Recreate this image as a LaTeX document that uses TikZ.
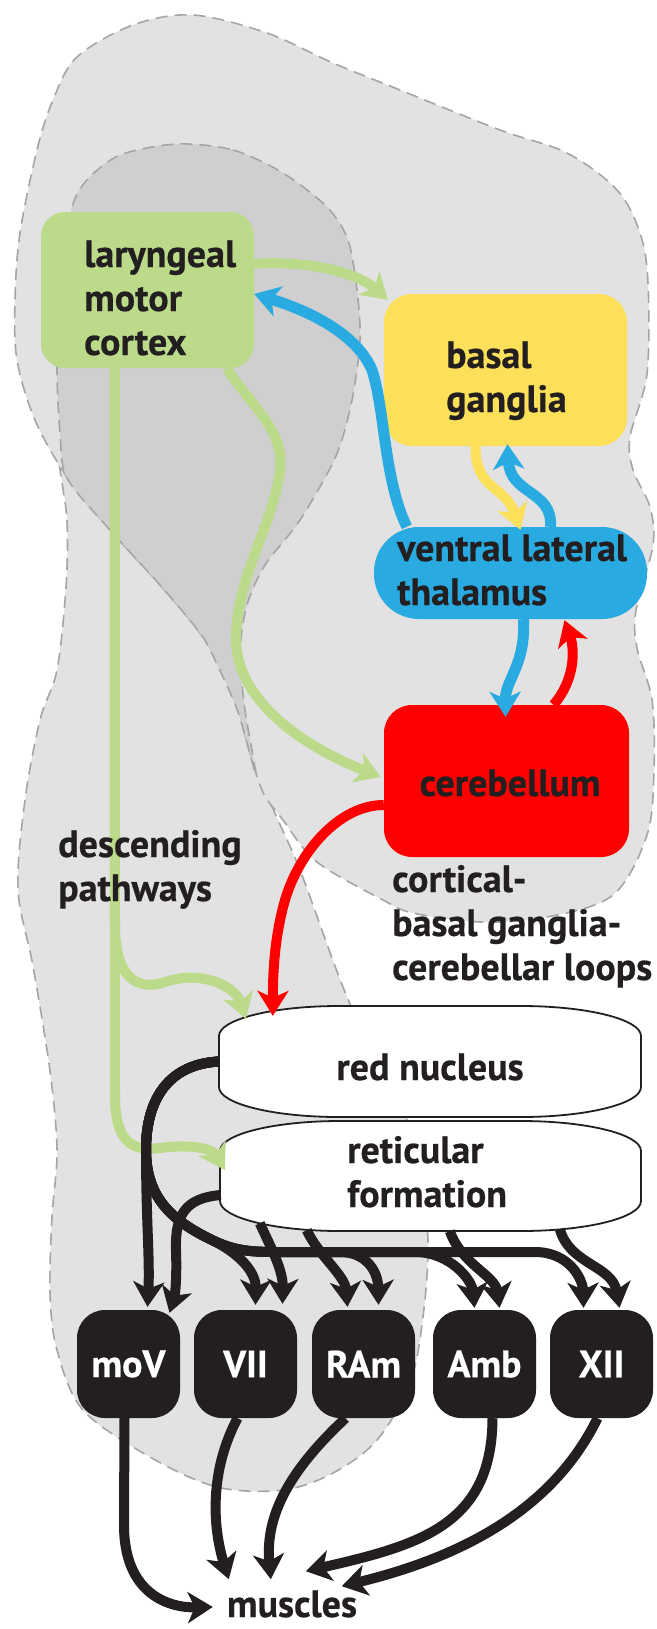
\documentclass[tikz,border=0pt]{standalone}
\usepackage{fontspec}
\setmainfont{PT Sans}[BoldFeatures={FakeBold=0.5}]
\usetikzlibrary{arrows.meta,calc}
\definecolor{cgreen}{RGB}{187,218,138}
\definecolor{cyellow}{RGB}{253,224,90}
\definecolor{cblue}{RGB}{41,170,225}
\definecolor{cred}{RGB}{255,0,0}
\definecolor{cblack}{RGB}{35,31,32}
\definecolor{clight}{RGB}{226,226,226}
\definecolor{cdark}{RGB}{207,207,207}
\definecolor{cdash}{RGB}{165,165,165}
\newcommand{\mlines}[1]{\begin{tabular}[t]{@{}l@{}}#1\end{tabular}}
\begin{document}
\begin{tikzpicture}[x=1pt,y=-1pt,
  region/.style={draw=cdash, line width=1.6pt, dash pattern=on 12pt off 7pt},
  box/.style={rectangle, inner sep=0pt},
  lbl/.style={inner sep=0pt, anchor=base west, text=cblack, font=\bfseries\fontsize{38}{44}\selectfont},
  nuc/.style={rectangle, rounded corners=28pt, fill=cblack, minimum width=103pt, minimum height=108pt, inner sep=0pt, text=white, font=\bfseries\fontsize{38}{44}\selectfont},
  conn/.style={line width=10pt, -{Stealth[length=25pt,width=31pt,inset=7pt]}},
  gconn/.style={conn, draw=cgreen},
  bconn/.style={conn, draw=cblue, line width=11pt},
  yconn/.style={conn, draw=cyellow},
  rconn/.style={conn, draw=cred},
  kconn/.style={conn, draw=cblack},
  nucshape/.style={fill=white, draw=cblack, line width=1.8pt}
]
\useasboundingbox (0,0) rectangle (656,1629);
\fill[white] (0,0) rectangle (656,1629);

% descending strip
\draw[region, fill=clight] plot[smooth cycle, tension=0.55] coordinates {
 (60,440) (67,520) (66,587) (57,670) (40,720) (25,800) (18,889) (33,966) (50,1071) (57,1150)
 (52,1217) (50,1293) (57,1350) (83,1410) (150,1457) (217,1487) (283,1490) (333,1473) (377,1440)
 (410,1383) (423,1317) (428,1240) (418,1170) (400,1100) (350,1004) (300,870) (266,790) (240,690) (190,580) (110,470)};
% cortex + loops region
\draw[region, fill=clight] plot[smooth cycle, tension=0.55] coordinates {
 (193,15) (267,33) (333,63) (400,90) (500,130) (567,153) (617,190) (640,233) (648,283) (647,374)
 (630,437) (633,470) (650,507) (653,545) (636,610) (637,648) (652,700) (654,770) (647,835)
 (613,895) (547,917) (480,922) (413,913) (383,900) (317,862) (283,820) (262,790) (245,735)
 (233,687) (200,633) (160,585) (110,530) (67,477) (35,420) (17,360) (15,300) (20,233) (37,150)
 (53,100) (77,57) (133,25)};
% cortex (dark)
\draw[region, fill=cdark] plot[smooth cycle, tension=0.5] coordinates {
 (177,144) (233,150) (283,173) (327,207) (348,240) (357,290) (360,340) (352,400) (336,456)
 (300,520) (265,565) (247,605) (240,653) (245,710) (256,775) (238,712) (215,660) (200,633)
 (160,585) (110,530) (67,478) (60,433) (57,367) (60,267) (72,207) (87,180) (120,155)};

% boxes
\node[box, fill=cgreen, minimum width=213pt, minimum height=156pt, rounded corners=24pt] (lmc) at (147.5,290) {};
\node[box, fill=cyellow, minimum width=243pt, minimum height=152pt, rounded corners=28pt] (bg) at (505.5,370) {};
\node[box, fill=cblue, minimum width=273pt, minimum height=92pt, rounded corners=45pt] (vlt) at (510.5,573) {};
\node[box, fill=cred, minimum width=245pt, minimum height=152pt, rounded corners=28pt] (cb) at (506.5,781) {};
\node[inner sep=0pt, minimum width=422pt, minimum height=111pt] (rn) at (430,1061.5) {};
\node[inner sep=0pt, minimum width=421pt, minimum height=110pt] (rf) at (430.5,1176) {};
\draw[nucshape] (219,1036) .. controls (219,1019.4) and (272.7,1006) .. (339,1006) -- (521,1006)
  .. controls (587.3,1006) and (641,1019.4) .. (641,1036) -- (641,1087)
  .. controls (641,1103.6) and (587.3,1117) .. (521,1117) -- (339,1117)
  .. controls (272.7,1117) and (219,1103.6) .. (219,1087) -- cycle;
\draw[nucshape] (220,1151) .. controls (220,1134.4) and (273.7,1121) .. (340,1121) -- (521,1121)
  .. controls (587.3,1121) and (641,1134.4) .. (641,1151) -- (641,1201)
  .. controls (641,1217.6) and (587.3,1231) .. (521,1231) -- (340,1231)
  .. controls (273.7,1231) and (220,1217.6) .. (220,1201) -- cycle;

\node[nuc] (nmoV) at (128.5,1364) {moV};
\node[nuc] (nVII) at (245.5,1364) {VII};
\node[nuc] (nRAm) at (363.5,1364) {RAm};
\node[nuc] (nAmb) at (484.5,1364) {Amb};
\node[nuc] (nXII) at (601.5,1364) {XII};
\node[lbl, anchor=base] (mus) at (292,1617) {muscles};

% green connectors
\draw[gconn] ($(lmc.north east)+(0,52)$) .. controls (315,260) and (360,275) .. ($(bg.north west)+(4,6)$);
\draw[gconn] ($(lmc.south west)+(186,0)$) .. controls (250,405) and (285,430) .. (280,470)
  .. controls (275,520) and (235,580) .. (236,640) .. controls (237,700) and (300,745) .. ($(cb.west)+(-3,-4)$);
\draw[gconn] ($(lmc.south west)+(74,0)$) -- (115,925) .. controls (115,975) and (135,992) .. (165,982)
  .. controls (200,970) and (235,985) .. ($(rn.north west)+(27,13)$);
\draw[gconn] ($(lmc.south west)+(74,0)$) -- (115,1095) .. controls (115,1140) and (130,1152) .. (160,1148)
  .. controls (190,1144) and (212,1148) .. ($(rf.west)+(5,-6)$);

% blue, yellow, red connectors
\draw[bconn] ($(vlt.north west)+(33,0)$) .. controls (384,480) and (385,410) .. (372,370)
  .. controls (355,330) and (300,308) .. ($(lmc.east)+(0,4)$);
\draw[bconn] ($(vlt.north)+(40,0)$) .. controls (553,490) and (510,495) .. ($(bg.south)+(2,-2)$);
\draw[yconn] ($(bg.south)+(-30,0)$) .. controls (475,490) and (505,485) .. ($(vlt.north)+(10,3)$);
\draw[bconn] ($(vlt.south)+(13,0)$) .. controls (526,665) and (505,680) .. ($(cb.north)+(-1,12)$);
\draw[rconn] ($(cb.north)+(47,0)$) .. controls (575,680) and (575,650) .. ($(vlt.south)+(54,1)$);
\draw[rconn] ($(cb.west)+(0,24)$) .. controls (340,805) and (300,850) .. (285,900)
  .. controls (272,945) and (273,990) .. ($(rn.north west)+(54,10)$);

% red nucleus outputs
\draw[kconn] (rn.west) .. controls (172,1064) and (146,1095) .. (146,1150)
  .. controls (146,1220) and (150,1260) .. ($(nmoV.north)+(19,-3)$);
\draw[kconn] (rn.west) .. controls (172,1064) and (146,1095) .. (146,1150)
  .. controls (146,1200) and (175,1222) .. (212,1240) .. controls (240,1254) and (256,1272) .. ($(nVII.north)+(10,-5)$);
\draw[kconn] (rn.west) .. controls (172,1064) and (146,1095) .. (146,1150)
  .. controls (146,1200) and (175,1222) .. (212,1240) .. controls (235,1251) and (250,1252) .. (280,1252)
  -- (340,1252) .. controls (365,1252) and (378,1270) .. ($(nRAm.north)+(15,-5)$);
\draw[kconn] (rn.west) .. controls (172,1064) and (146,1095) .. (146,1150)
  .. controls (146,1200) and (175,1222) .. (212,1240) .. controls (235,1251) and (250,1252) .. (280,1252)
  -- (415,1252) .. controls (450,1252) and (472,1280) .. ($(nAmb.north)+(-10,-2)$);
\draw[kconn] (rn.west) .. controls (172,1064) and (146,1095) .. (146,1150)
  .. controls (146,1200) and (175,1222) .. (212,1240) .. controls (235,1251) and (250,1252) .. (280,1252)
  -- (535,1252) .. controls (570,1252) and (583,1280) .. ($(nXII.north)+(-18,-2)$);

% reticular formation outputs
\draw[kconn] ($(rf.west)+(1,19)$) .. controls (185,1198) and (175,1215) .. (176,1250)
  .. controls (177,1280) and (175,1295) .. ($(nmoV.north)+(41,3)$);
\draw[kconn] ($(rf.south west)+(40,-8)$) .. controls (272,1250) and (283,1270) .. ($(nVII.north)+(37,-6)$);
\draw[kconn] ($(rf.south west)+(87,-1)$) .. controls (318,1255) and (345,1275) .. ($(nRAm.north)+(-16,-3)$);
\draw[kconn] ($(rf.south west)+(230,0)$) .. controls (462,1265) and (495,1275) .. ($(nAmb.north)+(15,-2)$);
\draw[kconn] ($(rf.south west)+(340,-2)$) .. controls (570,1265) and (612,1265) .. ($(nXII.north)+(18,-2)$);

% to muscles
\draw[kconn] ($(nmoV.south)+(-4,0)$) -- (124,1525) .. controls (124,1595) and (170,1608) .. ($(mus.west)+(-14,3)$);
\draw[kconn] ($(nVII.south)+(-8,0)$) .. controls (210,1470) and (212,1525) .. ($(mus.north west)+(2,-11)$);
\draw[kconn] ($(nRAm.south)+(-18,0)$) .. controls (290,1470) and (265,1515) .. ($(mus.north west)+(44,-11)$);
\draw[kconn] ($(nAmb.south)+(8,0)$) .. controls (492,1525) and (420,1545) .. ($(mus.north west)+(79,-19)$);
\draw[kconn] ($(nXII.south)+(-4,0)$) .. controls (555,1505) and (470,1555) .. ($(mus.north west)+(115,-4)$);

% labels
\node[lbl] (tlmc) at (84,267) {\mlines{laryngeal\\motor\\cortex}};
\node[lbl] (tbg) at (446,368) {\mlines{basal\\ganglia}};
\node[lbl] (tvlt) at (397,561) {\mlines{ventral lateral\\thalamus}};
\node[lbl, anchor=base] (tcb) at (510,796) {cerebellum};
\node[lbl] (tloops) at (392,892) {\mlines{cortical-\\basal ganglia-\\cerebellar loops}};
\node[lbl] (tdesc) at (58,857) {\mlines{descending\\pathways}};
\node[lbl, anchor=base] (trn) at (430,1080) {red nucleus};
\node[lbl] (trf) at (347,1163) {\mlines{reticular\\formation}};
\end{tikzpicture}
\end{document}
